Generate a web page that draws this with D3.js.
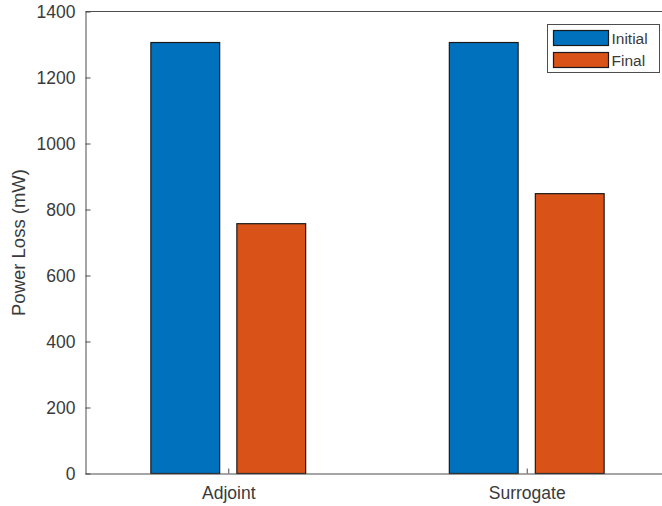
<!DOCTYPE html>
<html>
<head>
<meta charset="utf-8">
<script src="https://cdn.jsdelivr.net/npm/d3@7"></script>
<style>
  html, body { margin: 0; padding: 0; background: #fff; }
  svg { display: block; font-family: "Liberation Sans", Arial, sans-serif; }
</style>
</head>
<body>
<svg id="chart" width="662" height="506"></svg>
<script>
// Power loss before and after optimisation, per method
const categories = ["Adjoint", "Surrogate"];
const seriesNames = ["Initial", "Final"];
const initialValues = [1306, 1306];
const finalValues = [757, 848];
const yTicks = [0, 200, 400, 600, 800, 1000, 1200, 1400];
const colors = ["#0072BD", "#D95319"];

const seriesValues = [initialValues, finalValues];

const svg = d3.select("#chart");
const axisColor = "#4d4d4d";
const textColor = "#3a3a3a";

const plotLeft = 85, plotRight = 670, plotTop = 11.5, plotBottom = 473.5;

// category index -> pixel centre
const x = d3.scaleLinear().domain([0.52, 2.48]).range([plotLeft, plotRight]);
// offset of each series within a group
const xSub = d3.scaleBand().domain(seriesNames).range([-86, 86])
  .paddingInner(0.2).paddingOuter(0.1);
const y = d3.scaleLinear().domain([0, 1400]).range([plotBottom, plotTop]);

// bars
const rows = [];
categories.forEach((c, ci) => {
  seriesNames.forEach((s, si) => {
    rows.push({ cat: ci + 1, series: s, value: seriesValues[si][ci], color: colors[si] });
  });
});

svg.append("g").selectAll("rect").data(rows).join("rect")
  .attr("x", d => x(d.cat) + xSub(d.series))
  .attr("y", d => y(d.value))
  .attr("width", xSub.bandwidth())
  .attr("height", d => y(0) - y(d.value))
  .attr("fill", d => d.color)
  .attr("stroke", "#1a1a1a")
  .attr("stroke-width", 1.2);

// y axis (ticks point inward)
const yAxis = svg.append("g")
  .attr("transform", `translate(${plotLeft + 0.5},0)`)
  .call(d3.axisLeft(y).tickValues(yTicks).tickFormat(d3.format("d"))
    .tickSizeInner(-5).tickSizeOuter(0).tickPadding(10));
yAxis.select(".domain").attr("stroke", axisColor);
yAxis.selectAll(".tick line").attr("stroke", axisColor);
yAxis.selectAll(".tick text")
  .attr("fill", textColor).attr("font-size", 17.5)
  .attr("font-family", "Liberation Sans, Arial, sans-serif");

// x axis (ticks point inward)
const xAxis = svg.append("g")
  .attr("transform", `translate(0,${plotBottom})`)
  .call(d3.axisBottom(x).tickValues([1, 2]).tickFormat(d => categories[d - 1])
    .tickSizeInner(-5).tickSizeOuter(0).tickPadding(13));
xAxis.select(".domain").attr("stroke", axisColor);
xAxis.selectAll(".tick line").attr("stroke", axisColor);
xAxis.selectAll(".tick text")
  .attr("fill", textColor).attr("font-size", 17.5)
  .attr("font-family", "Liberation Sans, Arial, sans-serif");

// top border of the axes box
svg.append("line")
  .attr("x1", plotLeft + 0.5).attr("x2", plotRight)
  .attr("y1", plotTop).attr("y2", plotTop)
  .attr("stroke", axisColor);

// y axis title
svg.append("text")
  .attr("transform", `translate(25,${(plotTop + plotBottom) / 2}) rotate(-90)`)
  .attr("text-anchor", "middle")
  .attr("fill", textColor)
  .attr("font-size", 18.5)
  .text("Power Loss (mW)");

// legend
const legend = svg.append("g").attr("transform", "translate(547.5,24.5)");
legend.append("rect")
  .attr("width", 112).attr("height", 48)
  .attr("fill", "#fff").attr("stroke", axisColor);
seriesNames.forEach((s, i) => {
  const g = legend.append("g").attr("transform", `translate(6,${6 + i * 22})`);
  g.append("rect")
    .attr("width", 55).attr("height", 15)
    .attr("fill", colors[i]).attr("stroke", "#1a1a1a").attr("stroke-width", 1.2);
  g.append("text")
    .attr("x", 58).attr("y", 8).attr("dy", "0.35em")
    .attr("fill", textColor).attr("font-size", 15.5)
    .text(s);
});
</script>
</body>
</html>
